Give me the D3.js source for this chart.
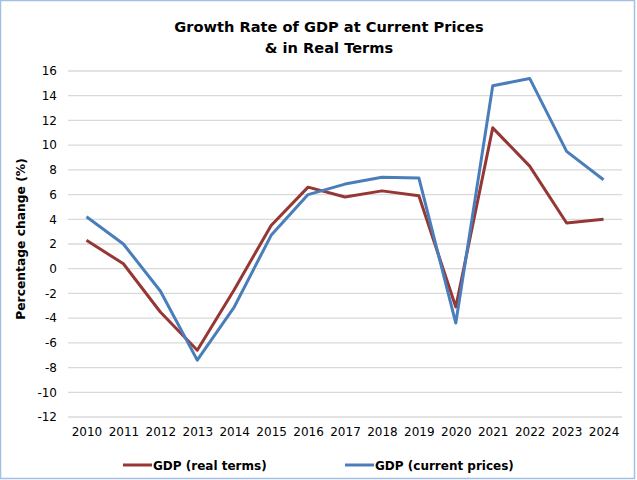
<!DOCTYPE html>
<html>
<head>
<meta charset="utf-8">
<script src="https://cdn.jsdelivr.net/npm/d3@7"></script>
<style>
  body { margin: 0; background: #fff; }
  text { font-family: Verdana, "DejaVu Sans", sans-serif; fill: #000; }
</style>
</head>
<body>
<div id="chart"></div>
<script>
// data
var years = ["2010", "2011", "2012", "2013", "2014", "2015", "2016", "2017",
             "2018", "2019", "2020", "2021", "2022", "2023", "2024"];
var realTerms = [2.3, 0.4, -3.5, -6.6, -1.7, 3.5, 6.6, 5.8, 6.3, 5.9, -3.1, 11.4, 8.3, 3.7, 4.0];
var currentPrices = [4.2, 2.0, -1.8, -7.4, -3.1, 2.7, 6.0, 6.85, 7.4, 7.35, -4.4, 14.8, 15.4, 9.5, 7.2];
var yTicks = [16, 14, 12, 10, 8, 6, 4, 2, 0, -2, -4, -6, -8, -10, -12];

var series = [
  { name: "GDP (real terms)", values: realTerms, color: "#953735" },
  { name: "GDP (current prices)", values: currentPrices, color: "#4a7ebb" }
];

drawChart();

function drawChart() {
  var W = 637, H = 480;
  var svg = d3.select("#chart")
              .append("svg")
              .attr("width", W)
              .attr("height", H);

  var margin = {top: 71, right: 15, bottom: 63, left: 68},
      width = W - margin.left - margin.right,
      height = H - margin.top - margin.bottom;

  // outer border
  svg.append("rect")
      .attr("x", 0.5).attr("y", 0.5)
      .attr("width", W - 3).attr("height", H - 2)
      .attr("fill", "none")
      .attr("stroke", "#a3bfe3")
      .attr("stroke-width", 1.5);

  var x = d3.scalePoint().domain(years).range([0, width]).padding(0.5),
      y = d3.scaleLinear().domain([-12, 16]).range([height, 0]);

  var g = svg.append("g")
      .attr("transform", "translate(" + margin.left + "," + margin.top + ")");

  // gridlines
  g.append("g")
    .selectAll("line")
    .data(yTicks)
    .enter().append("line")
      .attr("x1", 0).attr("x2", width)
      .attr("y1", function(d) { return y(d); })
      .attr("y2", function(d) { return y(d); })
      .attr("stroke", "#d9d9d9")
      .attr("stroke-width", 1.3);

  // y axis labels (plain hyphen for negatives, as in the original)
  var yAxis = g.append("g")
      .call(d3.axisLeft(y).tickValues(yTicks).tickSize(0).tickPadding(11)
              .tickFormat(function(d) { return String(d); }));
  yAxis.select(".domain").remove();
  yAxis.selectAll("text")
      .attr("font-size", "12px")
      .attr("font-family", "Verdana, 'DejaVu Sans', sans-serif")
      .attr("fill", "#000");

  // x axis labels
  var xAxis = g.append("g")
      .attr("transform", "translate(0," + height + ")")
      .call(d3.axisBottom(x).tickSize(0).tickPadding(10));
  xAxis.select(".domain").remove();
  xAxis.selectAll("text")
      .attr("font-size", "12px")
      .attr("font-family", "Verdana, 'DejaVu Sans', sans-serif")
      .attr("fill", "#000");

  // lines
  var line = d3.line()
      .x(function(d, i) { return x(years[i]); })
      .y(function(d) { return y(d); });

  g.selectAll(".series")
    .data(series)
    .enter().append("path")
      .attr("class", "series")
      .attr("fill", "none")
      .attr("stroke", function(d) { return d.color; })
      .attr("stroke-width", 3)
      .attr("stroke-linejoin", "round")
      .attr("d", function(d) { return line(d.values); });

  // title
  var title = svg.append("text")
      .attr("text-anchor", "middle")
      .attr("font-size", "14.6px")
      .attr("font-weight", "bold");
  title.append("tspan").attr("x", 329).attr("y", 31.5).text("Growth Rate of GDP at Current Prices");
  title.append("tspan").attr("x", 329).attr("y", 52.5).text("& in Real Terms");

  // y axis title
  svg.append("text")
      .attr("text-anchor", "middle")
      .attr("font-size", "12.3px")
      .attr("font-weight", "bold")
      .attr("transform", "translate(25,239)rotate(-90)")
      .text("Percentage change (%)");

  // legend
  var legendX = [123, 345];
  var legend = svg.selectAll(".legend")
    .data(series)
    .enter().append("g")
      .attr("class", "legend")
      .attr("transform", function(d, i) { return "translate(" + legendX[i] + ",465)"; });
  legend.append("line")
      .attr("x1", 0).attr("x2", 29)
      .attr("stroke", function(d) { return d.color; })
      .attr("stroke-width", 3);
  legend.append("text")
      .attr("x", 30).attr("y", 4.5)
      .attr("font-size", "12px")
      .attr("font-weight", "bold")
      .text(function(d) { return d.name; });
}
</script>
</body>
</html>
